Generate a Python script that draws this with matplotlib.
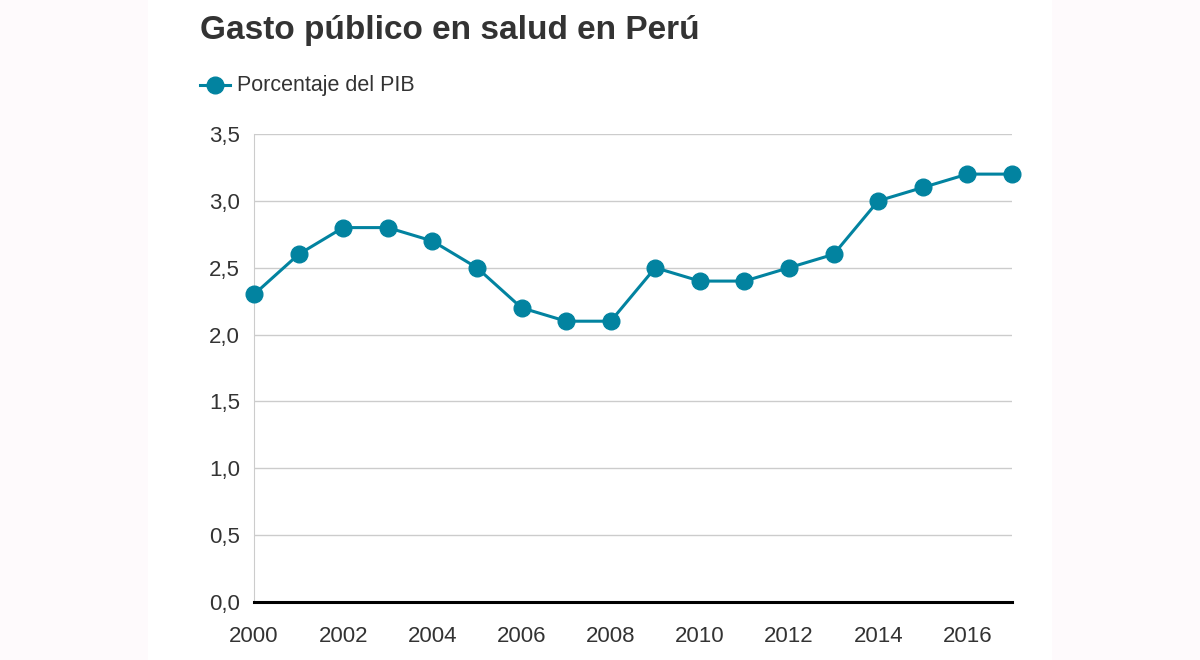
import matplotlib.pyplot as plt
from matplotlib.patches import Rectangle
from matplotlib.lines import Line2D

# --- データ ---
years = [2000, 2001, 2002, 2003, 2004, 2005, 2006, 2007, 2008,
         2009, 2010, 2011, 2012, 2013, 2014, 2015, 2016, 2017]
gasto = [2.3, 2.6, 2.8, 2.8, 2.7, 2.5, 2.2, 2.1, 2.1,
         2.5, 2.4, 2.4, 2.5, 2.6, 3.0, 3.1, 3.2, 3.2]
xticks = [2000, 2002, 2004, 2006, 2008, 2010, 2012, 2014, 2016]
yticks = [0.0, 0.5, 1.0, 1.5, 2.0, 2.5, 3.0, 3.5]
ytick_labels = ['0,0', '0,5', '1,0', '1,5', '2,0', '2,5', '3,0', '3,5']

color = '#0283a0'
txt = '#333333'
plt.rcParams['font.family'] = ['Liberation Sans', 'DejaVu Sans']

fig = plt.figure(figsize=(12, 6.6), dpi=100)
fig.patch.set_facecolor('#fefafc')
fig.patches.append(Rectangle((148/1200, 0), 904/1200, 1, transform=fig.transFigure,
                             facecolor='white', edgecolor='none', zorder=-5))

ax = fig.add_axes([254/1200, 58/660, 758/1200, 468/660])
ax.set_facecolor('white')
ax.plot(years, gasto, color=color, linewidth=2.2, marker='o', markersize=12,
        clip_on=False, zorder=3)

ax.set_xlim(2000, 2017)
ax.set_ylim(0, 3.5)
ax.set_xticks(xticks)
ax.set_yticks(yticks)
ax.set_yticklabels(ytick_labels)
ax.tick_params(axis='both', length=0, labelsize=16, labelcolor=txt)
ax.tick_params(axis='x', pad=17)
ax.tick_params(axis='y', pad=10)
ax.grid(axis='y', color='#cccccc', linewidth=1)
ax.set_axisbelow(True)
for s in ['top', 'right']:
    ax.spines[s].set_visible(False)
ax.spines['left'].set_color('#cccccc')
ax.spines['bottom'].set_color('black')
ax.spines['bottom'].set_linewidth(2.2)
ax.spines['bottom'].set_zorder(4)

fig.text(200/1200, 1 - 30/660, 'Gasto público en salud en Perú', fontsize=24,
         fontweight='bold', color=txt, va='center', ha='left')

# 凡例
leg_y = 1 - 85/660
fig.add_artist(Line2D([200/1200, 230/1200], [leg_y, leg_y], color=color, linewidth=2.2,
                      transform=fig.transFigure))
fig.add_artist(Line2D([215/1200], [leg_y], color=color, marker='o', markersize=12,
                      linestyle='none', transform=fig.transFigure))
fig.text(237/1200, leg_y, 'Porcentaje del PIB', fontsize=15.5, color=txt,
         va='center', ha='left')

plt.savefig('out.png', dpi=100, facecolor=fig.get_facecolor())
